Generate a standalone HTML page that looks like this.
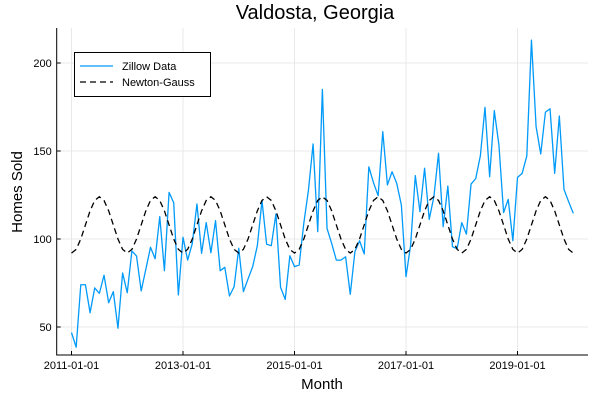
<!DOCTYPE html>
<html><head><meta charset="utf-8"><style>
html,body{margin:0;padding:0;background:#fff;}
svg{display:block;font-family:"Liberation Sans","DejaVu Sans",sans-serif;}
</style></head><body>
<svg id="chart" width="600" height="400" viewBox="0 0 600 400" xmlns="http://www.w3.org/2000/svg">
<text x="315" y="19" font-size="20" text-anchor="middle" fill="#000">Valdosta, Georgia</text>
<text transform="translate(22,192) rotate(-90)" font-size="15" text-anchor="middle" fill="#000">Homes Sold</text>
<text x="322" y="389" font-size="15" text-anchor="middle" fill="#000">Month</text>
<g id="grid"></g>
<g id="series"></g>
<g id="axes"></g>
<g>
<rect x="74.5" y="52.5" width="136" height="44" fill="#fff" stroke="#000" stroke-width="1"/>
<line x1="80" y1="66" x2="113" y2="66" stroke="#009af9" stroke-width="1.3"/>
<text x="122" y="70" font-size="11">Zillow Data</text>
<line x1="80" y1="82" x2="113" y2="82" stroke="#000" stroke-width="1.3" stroke-dasharray="6,4"/>
<text x="122" y="86" font-size="11">Newton-Gauss</text>
</g>
</svg>
<script>
const zillowValues=[46.8,38.5,74,74,58.1,72.2,69.1,79.4,63.8,70.1,49.3,80.7,69.5,93.2,90.3,70.5,82.8,95.3,88.8,112.7,82,126.5,120.6,68.2,
101,88,97.5,119.9,91.9,109.3,92.2,110.4,82,83.9,67.6,72.9,94.7,70.1,77.3,84.3,96.2,121.8,97,96.2,114.2,72.5,65.7,90.5,84.3,
85.2,108.9,127.8,154,104.2,185,106,97.5,88,88,89.9,68.6,92.8,99,91.5,141,132,124.6,161,130.7,138.2,131.6,119.3,
78.6,96.6,136,115.5,140.2,111.2,124,148.7,107,130.1,95.6,94.5,109.3,102.8,131.2,134.3,147.2,174.8,135.4,172.9,153.4,115,122.5,99,
135,137.3,147.2,213,163.8,148.3,172,174,137.3,169.9,128.2,121.2,114.6];
const fitYear=[92,94.1,100,108,116,121.9,124,121.9,116,108,100,94.1];
const yTicks=[50,100,150,200];
const xTickMonths=[0,24,48,72,96];
const xTickLabels=["2011-01-01","2013-01-01","2015-01-01","2017-01-01","2019-01-01"];

const fitValues=[];
for(let i=0;i<zillowValues.length;i++){fitValues.push(fitYear[i%12]);}
const NS="http://www.w3.org/2000/svg";
const X0=71.5, MPX=4.646, plotLeft=56.7, plotRight=588, plotTop=28, plotBottom=355;
const xs=m=>X0+m*MPX;
const ys=v=>239-(v-100)*1.76;
function mk(tag,attrs,parent){const e=document.createElementNS(NS,tag);for(const k in attrs)e.setAttribute(k,attrs[k]);parent.appendChild(e);return e;}
const gridG=document.getElementById('grid'),axesG=document.getElementById('axes'),seriesG=document.getElementById('series');
yTicks.forEach(v=>{
  const g=mk('line',{x1:plotLeft,x2:plotRight,y1:ys(v),y2:ys(v),stroke:'#e8e8e8','stroke-width':1},gridG);
  
  
  const t=mk('line',{x1:plotLeft,x2:plotLeft+4,y1:ys(v),y2:ys(v),stroke:'#000','stroke-width':1},axesG);
  
  
  const l=mk('text',{x:plotLeft-5,y:ys(v)+4,'font-size':11,'text-anchor':'end'},axesG);
  l.textContent=v;
  
  
});
xTickMonths.forEach((m,i)=>{
  const g=mk('line',{x1:xs(m),x2:xs(m),y1:plotTop,y2:plotBottom,stroke:'#e8e8e8','stroke-width':1},gridG);
  
  
  const t=mk('line',{x1:xs(m),x2:xs(m),y1:plotBottom,y2:plotBottom-4,stroke:'#000','stroke-width':1},axesG);
  
  
  const l=mk('text',{x:xs(m),y:plotBottom+14,'font-size':11,'text-anchor':'middle'},axesG);
  l.textContent=xTickLabels[i];
  
  
});
const ax=mk('path',{d:`M${plotLeft},${plotTop}V${plotBottom}H${plotRight}`,fill:'none',stroke:'#000','stroke-width':1},axesG);


const zp=mk('polyline',{points:zillowValues.map((v,i)=>xs(i).toFixed(2)+','+ys(v).toFixed(2)).join(' '),fill:'none',stroke:'#009af9','stroke-width':1.3,'stroke-linejoin':'round'},seriesG);


const fp=mk('polyline',{points:fitValues.map((v,i)=>xs(i).toFixed(2)+','+ys(v).toFixed(2)).join(' '),fill:'none',stroke:'#000','stroke-width':1.3,'stroke-dasharray':'6,4'},seriesG);


</script>
</body></html>
